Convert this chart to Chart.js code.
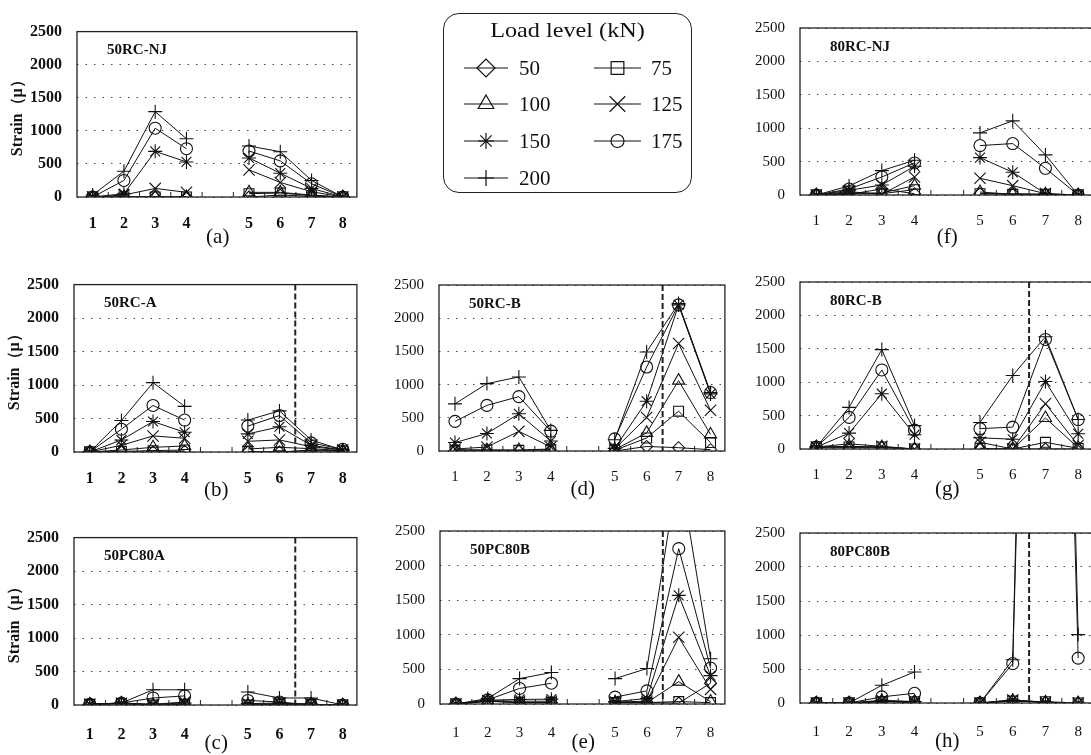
<!DOCTYPE html>
<html lang="en">
<head>
<meta charset="utf-8">
<title>Strain distribution by load level</title>
<script src="https://cdn.jsdelivr.net/npm/chart.js"></script>
<style>
  html, body { margin: 0; padding: 0; overflow: hidden; background: #fff; }
  body { width: 1091px; height: 755px; position: relative; font-family: "Liberation Serif", "Times New Roman", serif; color: #111; }
  .panel { position: absolute; }
  .legend { position: absolute; left: 443px; top: 13px; width: 249px; height: 180px; box-sizing: border-box;
            border: 1.5px solid #222; border-radius: 16px; }
  .legend canvas { position: absolute; left: 0; top: 0; }
  .ltitle { position: absolute; left: 0; width: 100%; top: 3px; text-align: center; font-size: 22px; line-height: 26px;
            transform: scaleX(1.1); }
  .litem { position: absolute; font-size: 21px; line-height: 24px; }
</style>
</head>
<body>

<div class="legend" id="legend">
  <canvas id="legendIcons" width="246" height="177"></canvas>
  <div class="ltitle">Load level (kN)</div>
</div>

<script>
// x positions of the gauges (gap between 4 and 5) and their labels
const positions = [0, 1, 2, 3, 5, 6, 7, 8];
const tickLabels = ['1', '2', '3', '4', '5', '6', '7', '8'];
const yTicks = [0, 500, 1000, 1500, 2000, 2500];

// load levels (kN) and their markers
const loads = [50, 75, 100, 125, 150, 175, 200];
const markerStyles = ['rectRot', 'rect', 'triangle', 'crossRot', 'star', 'circle', 'cross'];
const markerSizes = [6, 7, 7, 8, 7, 6, 7];

// strain values, one row per load level (50 ... 200), gauges 1..8
const strain50RCNJ = [
  [0, 0, 0, 0, 0, 30, 10, 0],
  [0, 0, 0, 0, 50, 60, 20, 0],
  [0, 0, 0, 0, 70, 70, 30, 0],
  [0, 30, 130, 70, 410, 220, 80, 0],
  [0, 50, 690, 530, 590, 360, 130, 0],
  [0, 250, 1040, 730, 695, 546, 200, 0],
  [30, 390, 1290, 880, 770, 685, 250, 0]
];
const strain50RCA = [
  [0, 0, 0, 10, 0, 0, 20, 10],
  [0, 10, 20, 30, 10, 0, 30, 20],
  [0, 30, 70, 90, 45, 70, 50, 20],
  [0, 100, 240, 205, 160, 180, 80, 30],
  [0, 180, 455, 295, 270, 377, 100, 30],
  [0, 340, 695, 477, 386, 545, 136, 40],
  [0, 470, 1036, 682, 477, 614, 180, 30]
];
const strain50PC80A = [
  [10, 20, 0, 10, 0, 10, 10, 0],
  [10, 20, 0, 10, 0, 10, 10, 0],
  [10, 25, 0, 10, 0, 15, 10, 0],
  [10, 25, 10, 45, 10, 20, 10, 0],
  [10, 30, 10, 30, 20, 30, 10, 0],
  [10, 30, 105, 136, 68, 45, 0, 0],
  [10, 30, 227, 227, 195, 105, 105, 0]
];
const strain50RCB = [
  [0, 0, 0, 0, 0, 68, 50, 20],
  [10, 15, 10, 20, 10, 196, 600, 127],
  [20, 15, 15, 30, 20, 273, 1060, 250],
  [30, 60, 296, 60, 30, 505, 1620, 614],
  [127, 264, 560, 150, 40, 750, 2200, 860],
  [446, 687, 819, 300, 182, 1265, 2200, 880],
  [710, 1015, 1115, 310, 170, 1492, 2220, 880]
];
const strain50PC80B = [
  [0, 40, 20, 20, 20, 20, 13, 300],
  [0, 40, 20, 20, 20, 20, 35, 20],
  [0, 45, 20, 20, 20, 20, 323, 35],
  [0, 50, 40, 40, 30, 40, 964, 212],
  [0, 55, 66, 70, 35, 80, 1570, 410],
  [0, 60, 225, 300, 100, 190, 2245, 520],
  [0, 80, 367, 455, 367, 513, 3450, 654]
];
const strain80RCNJ = [
  [0, 10, 90, 20, 20, 20, 10, 0],
  [0, 20, 20, 80, 20, 10, 10, 0],
  [0, 30, 30, 140, 45, 10, 10, 0],
  [0, 50, 10, 270, 250, 140, 20, 0],
  [0, 70, 150, 430, 560, 340, 20, 0],
  [0, 90, 270, 480, 740, 770, 400, 0],
  [0, 135, 365, 520, 930, 1110, 600, 0]
];
const strain80RCB = [
  [20, 20, 20, 0, 0, 0, 0, 0],
  [30, 30, 30, 0, 10, 0, 100, 10],
  [30, 40, 30, 0, 10, 0, 464, 20],
  [30, 77, 40, 0, 100, 0, 678, 55],
  [30, 237, 828, 214, 168, 146, 1010, 228],
  [30, 473, 1183, 282, 305, 328, 1640, 441],
  [30, 623, 1488, 350, 396, 1101, 1680, 441]
];
const strain80PC80B = [
  [0, 0, 20, 20, 0, 30, 10, 0],
  [0, 0, 20, 20, 0, 30, 20, 0],
  [0, 0, 30, 20, 0, 30, 10, 0],
  [0, 0, 30, 0, 0, 45, 10, 0],
  [0, 0, 40, 20, 0, 45, 10, 0],
  [0, 0, 90, 143, 0, 580, 18000, 660],
  [0, 0, 260, 456, 0, 635, 20000, 1006]
];

// panel layout: plot area [left, top, right, bottom] in page pixels
const panels = [
  { name: '50RC-NJ', letter: '(a)', values: strain50RCNJ, plot: [77, 15, 362, 197], col: 1, dashed: false, labelDy: 25, letterDy: 40 },
  { name: '50RC-A', letter: '(b)', values: strain50RCA, plot: [74, 268, 362, 452], col: 1, dashed: true, labelDy: 25, letterDy: 38 },
  { name: '50PC80A', letter: '(c)', values: strain50PC80A, plot: [74, 521, 362, 705], col: 1, dashed: true, labelDy: 28, letterDy: 38 },
  { name: '50RC-B', letter: '(d)', values: strain50RCB, plot: [439, 269, 730, 451], col: 2, dashed: true, labelDy: 25, letterDy: 38 },
  { name: '50PC80B', letter: '(e)', values: strain50PC80B, plot: [440, 515, 730, 704], col: 2, dashed: true, labelDy: 28, letterDy: 38 },
  { name: '80RC-NJ', letter: '(f)', values: strain80RCNJ, plot: [800, 12, 1098, 195], col: 3, dashed: false, labelDy: 25, letterDy: 42 },
  { name: '80RC-B', letter: '(g)', values: strain80RCB, plot: [800, 266, 1098, 449], col: 3, dashed: true, labelDy: 25, letterDy: 40 },
  { name: '80PC80B', letter: '(h)', values: strain80PC80B, plot: [800, 517, 1098, 703], col: 3, dashed: true, labelDy: 28, letterDy: 38 }
];

const SERIF = '"Liberation Serif", "Times New Roman", serif';
const Y_W = 80, PAD_T = 8, PAD_R = 4, X_H = 60;

function buildPoints(vals) {
  const pts = [];
  vals.forEach((v, i) => {
    if (i === 4) pts.push({ x: 4, y: null }); // break between gauge 4 and 5
    pts.push({ x: positions[i], y: v });
  });
  return pts;
}

// frame, inner ticks, dashed line, panel name and letter
const panelDecor = {
  id: 'panelDecor',
  afterDatasetsDraw(chart, args, opts) {
    const { ctx, chartArea: a, scales: { x } } = chart;
    ctx.save();
    ctx.setLineDash([]);
    ctx.strokeStyle = '#222';
    ctx.lineWidth = 1;
    for (let v = 0.5; v < 8; v += 1) {
      const px = x.getPixelForValue(v);
      ctx.beginPath();
      ctx.moveTo(px, a.bottom);
      ctx.lineTo(px, a.bottom - 5);
      ctx.stroke();
    }
    if (opts.dashed) {
      const px = x.getPixelForValue(6.5);
      ctx.lineWidth = 2;
      ctx.setLineDash([6, 3]);
      ctx.beginPath();
      ctx.moveTo(px, a.top);
      ctx.lineTo(px, a.bottom);
      ctx.stroke();
      ctx.setLineDash([]);
    }
    ctx.lineWidth = 1.3;
    ctx.strokeRect(a.left, a.top, a.right - a.left, a.bottom - a.top);

    ctx.fillStyle = '#111';
    ctx.textBaseline = 'middle';
    ctx.textAlign = 'left';
    ctx.font = 'bold 15px ' + SERIF;
    ctx.fillText(opts.name, a.left + 30, a.top + 19);

    ctx.textAlign = 'center';
    ctx.font = '21px ' + SERIF;
    ctx.fillText(opts.letter, x.getPixelForValue(4), a.bottom + opts.letterDy);

    if (opts.yTitle) {
      ctx.translate(a.left - 59, (a.top + a.bottom) / 2);
      ctx.rotate(-Math.PI / 2);
      ctx.font = 'bold 16px ' + SERIF;
      ctx.fillText('Strain（μ）', 0, 0);
    }
    ctx.restore();
  }
};

panels.forEach(p => {
  const [l, t, r, b] = p.plot;
  const w = r - l + Y_W + PAD_R;
  const h = b - t + PAD_T + X_H;
  const div = document.createElement('div');
  div.className = 'panel';
  div.style.left = (l - Y_W) + 'px';
  div.style.top = (t - PAD_T) + 'px';
  const cv = document.createElement('canvas');
  cv.width = w; cv.height = h;
  cv.style.width = w + 'px'; cv.style.height = h + 'px';
  div.appendChild(cv);
  document.body.appendChild(div);

  const tickFont = p.col === 1 ? { family: SERIF, size: 16, weight: 'bold' }
                               : { family: SERIF, size: 15 };

  const datasets = p.values.map((vals, k) => ({
    label: loads[k] + ' kN',
    data: buildPoints(vals),
    borderColor: '#111',
    borderWidth: 1,
    pointStyle: markerStyles[k],
    pointRadius: markerSizes[k],
    pointBorderColor: '#111',
    pointBackgroundColor: 'rgba(0,0,0,0)',
    pointBorderWidth: 1.1,
    tension: 0,
    spanGaps: false
  }));

  new Chart(cv, {
    type: 'line',
    data: { datasets },
    plugins: [panelDecor],
    options: {
      responsive: false,
      animation: false,
      devicePixelRatio: 1,
      layout: { padding: { top: PAD_T, right: PAD_R, left: 0, bottom: 0 } },
      plugins: {
        legend: { display: false },
        tooltip: { enabled: false },
        panelDecor: { name: p.name, letter: p.letter, dashed: p.dashed, letterDy: p.letterDy, yTitle: p.col === 1 }
      },
      scales: {
        x: {
          type: 'linear',
          min: -0.5, max: 8.45,
          afterBuildTicks: s => { s.ticks = positions.map(v => ({ value: v })); },
          afterFit: s => { s.height = X_H; },
          grid: { display: false },
          border: { display: false },
          ticks: {
            autoSkip: false, maxRotation: 0, padding: p.labelDy - 16,
            color: '#111', font: tickFont,
            callback: v => { const i = positions.indexOf(v); return i >= 0 ? tickLabels[i] : ''; }
          }
        },
        y: {
          min: 0, max: 2500,
          afterBuildTicks: s => { s.ticks = yTicks.map(v => ({ value: v })); },
          afterFit: s => { s.width = Y_W; },
          grid: { color: '#444', lineWidth: 1, drawTicks: false },
          border: { display: false, dash: [1.5, 7] },
          ticks: { padding: 15, color: '#111', font: tickFont, callback: v => String(v) }
        }
      }
    }
  });
});

// legend box
const legendItems = [
  { k: 0, col: 0, row: 0 }, { k: 1, col: 1, row: 0 },
  { k: 2, col: 0, row: 1 }, { k: 3, col: 1, row: 1 },
  { k: 4, col: 0, row: 2 }, { k: 5, col: 1, row: 2 },
  { k: 6, col: 0, row: 3 }
];
const legendMarkerSizes = [9, 9, 9, 11, 8, 6.5, 8];
const lineSpan = [[20, 64], [150, 197]];
const textLeft = [75, 207];
const rowY = [54, 90, 127, 164];

const lctx = document.getElementById('legendIcons').getContext('2d');
const legendBox = document.getElementById('legend');
legendItems.forEach(it => {
  const [x0, x1] = lineSpan[it.col];
  const y = rowY[it.row];
  lctx.strokeStyle = '#111';
  lctx.lineWidth = 1.2;
  lctx.beginPath();
  lctx.moveTo(x0, y);
  lctx.lineTo(x1, y);
  lctx.stroke();
  lctx.fillStyle = 'rgba(0,0,0,0)';
  Chart.helpers.drawPoint(lctx, {
    pointStyle: markerStyles[it.k],
    radius: legendMarkerSizes[it.k],
    borderWidth: 1.2,
    rotation: 0
  }, (x0 + x1) / 2, y);

  const span = document.createElement('div');
  span.className = 'litem';
  span.style.left = textLeft[it.col] + 'px';
  span.style.top = (y - 12) + 'px';
  span.textContent = loads[it.k];
  legendBox.appendChild(span);
});
</script>
</body>
</html>
